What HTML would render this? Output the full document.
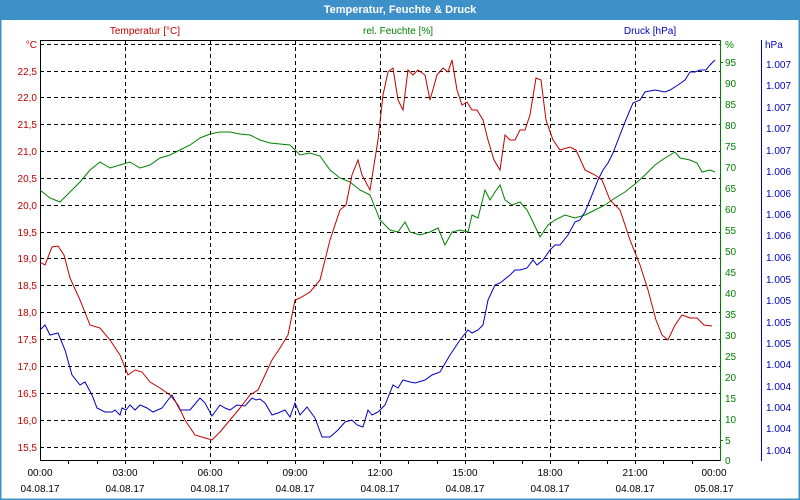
<!DOCTYPE html>
<html><head><meta charset="utf-8"><style>
html,body{margin:0;padding:0;background:#fff}
svg{display:block;font-family:"Liberation Sans",sans-serif}
</style></head><body>
<svg width="800" height="500" viewBox="0 0 800 500" xmlns="http://www.w3.org/2000/svg">
<rect x="0" y="0" width="800" height="500" fill="#fff"/>
<rect x="0" y="0" width="800" height="20" fill="#3e90c8"/>
<rect x="0.5" y="0.5" width="799" height="499" fill="none" stroke="#3e90c8" stroke-width="2"/>
<text x="400" y="13" text-anchor="middle" font-size="11" font-weight="bold" fill="#fff">Temperatur, Feuchte &amp; Druck</text>
<g font-size="10">
<text x="145" y="34" text-anchor="middle" fill="#c00000">Temperatur [°C]</text>
<text x="398" y="34" text-anchor="middle" fill="#008000">rel. Feuchte [%]</text>
<text x="650" y="34" text-anchor="middle" fill="#0000c0">Druck [hPa]</text>
</g>
<g stroke="#000" stroke-dasharray="4,3" stroke-width="1">
<line x1="40" y1="44.5" x2="720" y2="44.5"/>
<line x1="40" y1="71.5" x2="720" y2="71.5"/>
<line x1="40" y1="97.5" x2="720" y2="97.5"/>
<line x1="40" y1="124.5" x2="720" y2="124.5"/>
<line x1="40" y1="151.5" x2="720" y2="151.5"/>
<line x1="40" y1="178.5" x2="720" y2="178.5"/>
<line x1="40" y1="205.5" x2="720" y2="205.5"/>
<line x1="40" y1="232.5" x2="720" y2="232.5"/>
<line x1="40" y1="258.5" x2="720" y2="258.5"/>
<line x1="40" y1="285.5" x2="720" y2="285.5"/>
<line x1="40" y1="312.5" x2="720" y2="312.5"/>
<line x1="40" y1="339.5" x2="720" y2="339.5"/>
<line x1="40" y1="366.5" x2="720" y2="366.5"/>
<line x1="40" y1="393.5" x2="720" y2="393.5"/>
<line x1="40" y1="420.5" x2="720" y2="420.5"/>
<line x1="40" y1="447.5" x2="720" y2="447.5"/>
<line x1="125.5" y1="40" x2="125.5" y2="460"/>
<line x1="210.5" y1="40" x2="210.5" y2="460"/>
<line x1="295.5" y1="40" x2="295.5" y2="460"/>
<line x1="380.5" y1="40" x2="380.5" y2="460"/>
<line x1="465.5" y1="40" x2="465.5" y2="460"/>
<line x1="550.5" y1="40" x2="550.5" y2="460"/>
<line x1="635.5" y1="40" x2="635.5" y2="460"/>
</g>
<line x1="40" y1="40.5" x2="720" y2="40.5" stroke="#000"/>
<line x1="40.5" y1="40" x2="40.5" y2="461" stroke="#000"/>
<line x1="40" y1="460.5" x2="720" y2="460.5" stroke="#000"/>
<line x1="720.5" y1="40" x2="720.5" y2="461" stroke="#008000"/>
<line x1="761.5" y1="40" x2="761.5" y2="461" stroke="#0000c0"/>
<g stroke="#000">
<line x1="68.5" y1="460" x2="68.5" y2="464"/><line x1="97.5" y1="460" x2="97.5" y2="464"/><line x1="125.5" y1="460" x2="125.5" y2="464"/>
<line x1="153.5" y1="460" x2="153.5" y2="464"/><line x1="182.5" y1="460" x2="182.5" y2="464"/><line x1="210.5" y1="460" x2="210.5" y2="464"/>
<line x1="238.5" y1="460" x2="238.5" y2="464"/><line x1="267.5" y1="460" x2="267.5" y2="464"/><line x1="295.5" y1="460" x2="295.5" y2="464"/>
<line x1="323.5" y1="460" x2="323.5" y2="464"/><line x1="352.5" y1="460" x2="352.5" y2="464"/><line x1="380.5" y1="460" x2="380.5" y2="464"/>
<line x1="408.5" y1="460" x2="408.5" y2="464"/><line x1="437.5" y1="460" x2="437.5" y2="464"/><line x1="465.5" y1="460" x2="465.5" y2="464"/>
<line x1="493.5" y1="460" x2="493.5" y2="464"/><line x1="522.5" y1="460" x2="522.5" y2="464"/><line x1="550.5" y1="460" x2="550.5" y2="464"/>
<line x1="578.5" y1="460" x2="578.5" y2="464"/><line x1="607.5" y1="460" x2="607.5" y2="464"/><line x1="635.5" y1="460" x2="635.5" y2="464"/>
<line x1="663.5" y1="460" x2="663.5" y2="464"/><line x1="692.5" y1="460" x2="692.5" y2="464"/>
</g>
<g font-size="10" fill="#c00000" text-anchor="end">
<text x="37" y="48">°C</text><text x="37" y="75">22,5</text><text x="37" y="101">22,0</text><text x="37" y="128">21,5</text>
<text x="37" y="155">21,0</text><text x="37" y="182">20,5</text><text x="37" y="209">20,0</text><text x="37" y="236">19,5</text>
<text x="37" y="262">19,0</text><text x="37" y="289">18,5</text><text x="37" y="316">18,0</text><text x="37" y="343">17,5</text>
<text x="37" y="370">17,0</text><text x="37" y="397">16,5</text><text x="37" y="424">16,0</text><text x="37" y="451">15,5</text>
</g>
<g font-size="10" fill="#008000">
<text x="725" y="48">%</text><text x="725" y="66">95</text><text x="725" y="87">90</text><text x="725" y="108">85</text>
<text x="725" y="129">80</text><text x="725" y="150">75</text><text x="725" y="171">70</text><text x="725" y="192">65</text>
<text x="725" y="213">60</text><text x="725" y="234">55</text><text x="725" y="255">50</text><text x="725" y="276">45</text>
<text x="725" y="297">40</text><text x="725" y="318">35</text><text x="725" y="339">30</text><text x="725" y="360">25</text>
<text x="725" y="381">20</text><text x="725" y="402">15</text><text x="725" y="423">10</text><text x="725" y="444">5</text><text x="725" y="464">0</text>
</g>
<g stroke="#008000"><line x1="720" y1="62.5" x2="723" y2="62.5"/><line x1="720" y1="440.5" x2="723" y2="440.5"/></g>
<g font-size="10" fill="#0000c0">
<text x="765" y="48">hPa</text>
<text x="766" y="68">1.007</text><text x="766" y="89">1.007</text><text x="766" y="111">1.007</text><text x="766" y="132">1.007</text><text x="766" y="154">1.007</text>
<text x="766" y="175">1.006</text><text x="766" y="197">1.006</text><text x="766" y="218">1.006</text><text x="766" y="239">1.006</text><text x="766" y="261">1.006</text>
<text x="766" y="283">1.005</text><text x="766" y="304">1.005</text><text x="766" y="326">1.005</text><text x="766" y="347">1.005</text>
<text x="766" y="368">1.004</text><text x="766" y="390">1.004</text><text x="766" y="411">1.004</text><text x="766" y="432">1.004</text><text x="766" y="454">1.004</text>
</g>
<g font-size="10" fill="#000" text-anchor="middle">
<text x="40" y="476">00:00</text><text x="40" y="492">04.08.17</text>
<text x="125" y="476">03:00</text><text x="125" y="492">04.08.17</text>
<text x="210" y="476">06:00</text><text x="210" y="492">04.08.17</text>
<text x="295" y="476">09:00</text><text x="295" y="492">04.08.17</text>
<text x="380" y="476">12:00</text><text x="380" y="492">04.08.17</text>
<text x="465" y="476">15:00</text><text x="465" y="492">04.08.17</text>
<text x="550" y="476">18:00</text><text x="550" y="492">04.08.17</text>
<text x="635" y="476">21:00</text><text x="635" y="492">04.08.17</text>
<text x="714" y="476">00:00</text><text x="714" y="492">05.08.17</text>
</g>
<polyline fill="none" stroke="#008000" stroke-width="1" points="40,190 50,198 60,202 70,192 80,182 90,170 100,162 110,168 120,165 130,162 140,168 150,165 160,158 170,155 180,150 190,145 200,138 210,134 220,132 230,132 240,134 250,135 260,140 270,143 280,144 290,145 300,155 310,153 320,156 330,170 340,178 350,182 360,190 370,195 380,220 390,230 398,232 405,222 410,232 420,235 430,232 438,228 445,245 452,232 460,230 468,232 472,215 478,218 485,190 490,200 495,192 500,185 505,200 512,205 520,202 527,210 532,220 540,237 548,225 555,220 565,215 575,218 585,215 595,210 605,205 615,198 625,192 635,184 645,175 655,165 665,158 675,152 680,158 690,160 697,163 702,172 710,170 715,172"/>
<polyline fill="none" stroke="#0000c0" stroke-width="1" points="40,330 45,325 50,335 58,333 65,350 72,375 80,385 85,382 92,395 97,408 105,412 112,412 115,410 120,415 122,408 126,410 130,405 135,410 140,405 147,408 153,412 162,408 168,400 172,395 180,410 190,410 200,398 205,403 212,416 220,405 225,408 230,410 237,405 245,406 252,398 256,400 260,399 265,403 272,415 278,413 285,410 290,417 295,403 300,415 307,407 315,418 322,437 330,437 338,430 345,422 352,420 357,425 363,427 368,410 372,415 378,412 385,405 393,385 398,388 403,380 410,382 415,383 425,380 432,375 440,372 450,355 460,340 468,330 472,333 478,330 483,325 488,300 495,285 500,283 510,275 515,270 520,270 527,268 533,260 537,265 543,260 550,250 555,245 560,245 568,235 575,222 580,220 585,212 592,195 598,180 603,170 608,163 613,153 618,140 625,122 630,110 633,103 640,100 645,92 655,90 665,92 670,90 678,85 685,80 690,72 695,72 700,70 706,70 710,65 715,60"/>
<polyline fill="none" stroke="#c00000" stroke-width="1" points="40,262 45,265 52,247 58,246 64,255 70,278 80,300 90,325 100,328 110,340 120,355 128,375 135,370 142,372 150,382 160,388 170,395 178,405 185,420 195,435 205,438 212,440 220,432 230,420 240,408 250,395 258,390 265,375 272,360 280,348 288,335 295,300 300,298 310,292 320,280 330,240 340,210 346,205 352,175 358,160 362,175 370,190 378,140 383,95 388,72 393,68 398,100 403,110 408,70 413,75 418,70 425,75 430,100 437,75 443,68 448,72 452,60 457,90 462,105 467,102 472,110 477,110 483,120 488,140 494,160 500,170 505,135 510,140 515,140 520,130 525,130 530,115 536,78 541,80 546,120 553,140 560,150 570,147 576,150 585,170 595,175 602,180 610,200 620,210 630,240 640,265 648,290 656,320 662,335 668,340 675,325 682,315 690,318 697,318 704,325 712,326"/>
</svg>
</body></html>
